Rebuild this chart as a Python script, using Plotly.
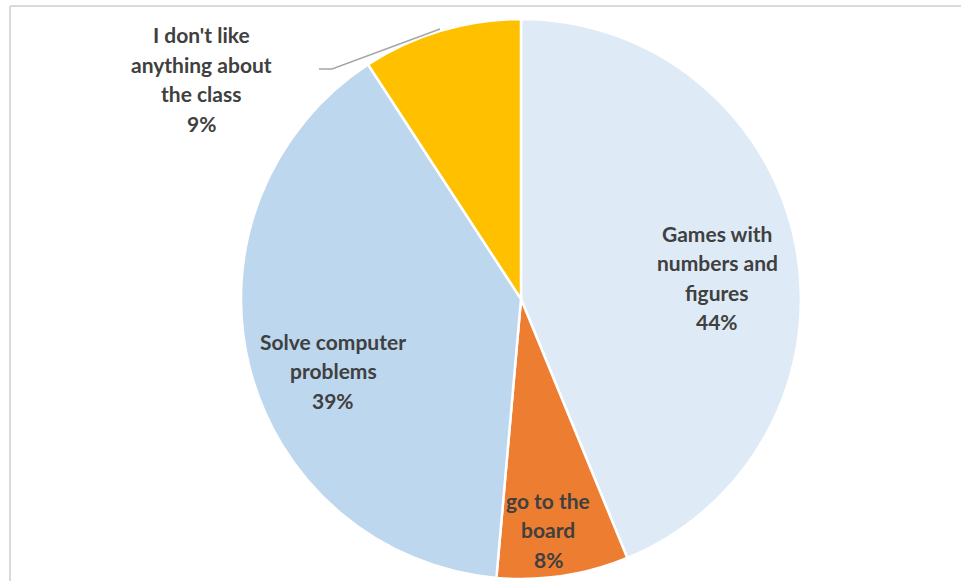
import plotly.graph_objects as go

# ---- data ----
categories = ["Games with numbers and figures", "go to the board",
              "Solve computer problems", "I don't like anything about the class"]
values = [43.8, 7.6, 39.4, 9.2]
colors = ["#DEEBF7", "#ED7D31", "#BDD7EE", "#FFC000"]
# how each label is wrapped on the chart
wrapped = [["Games with", "numbers and", "figures"],
           ["go to the", "board"],
           ["Solve computer", "problems"],
           ["I don't like", "anything about", "the class"]]

W, H = 961, 581
CX, CY, R = 521, 299, 280

fig = go.Figure(go.Pie(
    labels=categories, values=values, sort=False, direction="clockwise", rotation=0,
    marker=dict(colors=colors, line=dict(color="white", width=2.5)),
    textinfo="none", hoverinfo="label+percent",
    domain=dict(x=[(CX - R) / W, (CX + R) / W], y=[1 - (CY + R) / H, 1 - (CY - R) / H]),
))

# label placement (pixel centre of first line), line spacing
label_pos = [(717, 233), (548, 500), (333, 341), (201, 35)]
LS = 29.5
total = sum(values)
annotations = []
for lines, v, (px, py) in zip(wrapped, values, label_pos):
    all_lines = lines + [f"{round(v / total * 100)}%"]
    for i, t in enumerate(all_lines):
        annotations.append(dict(
            x=px / W, y=1 - (py + i * LS) / H, xref="paper", yref="paper",
            text=t, showarrow=False, xanchor="center", yanchor="middle",
            font=dict(family="Lato", size=21, color="#404040", weight="bold")))

shapes = [
    # chart frame (top and left edges visible)
    dict(type="line", xref="paper", yref="paper", x0=10 / W, x1=1, y0=1 - 6 / H, y1=1 - 6 / H,
         line=dict(color="#D9D9D9", width=2)),
    dict(type="line", xref="paper", yref="paper", x0=10 / W, x1=10 / W, y0=0, y1=1 - 6 / H,
         line=dict(color="#D9D9D9", width=2)),
    # leader line
    dict(type="path", xref="paper", yref="paper",
         path=f"M {319 / W} {1 - 69 / H} L {332 / W} {1 - 69 / H} L {440 / W} {1 - 29 / H}",
         line=dict(color="#A6A6A6", width=1.5)),
]

fig.update_layout(width=W, height=H, margin=dict(l=0, r=0, t=0, b=0),
                  paper_bgcolor="white", plot_bgcolor="white", showlegend=False,
                  annotations=annotations, shapes=shapes)
fig.write_html("out.html", config={"displayModeBar": False},
               post_script="document.body.style.margin='0';document.body.style.overflow='hidden';")
